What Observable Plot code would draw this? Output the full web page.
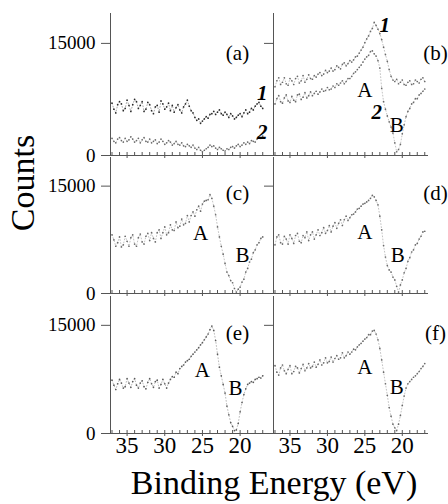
<!DOCTYPE html>
<html>
<head>
<meta charset="utf-8">
<script src="https://cdn.jsdelivr.net/npm/d3@7"></script>
<script src="https://cdn.jsdelivr.net/npm/@observablehq/plot@0.6"></script>
<style>
  html, body { margin: 0; padding: 0; background: #fff; }
  #fig { position: relative; width: 448px; height: 504px; overflow: hidden; color: #000; }
  #fig svg { position: absolute; }
  .ylab { position: absolute; left: 23px; top: 183px; font-size: 34px; line-height: 34px;
          white-space: nowrap; transform: translate(-50%, -50%) rotate(-90deg); }
  .xlab { position: absolute; left: 274px; top: 466px; font-size: 34px; line-height: 34px;
          white-space: nowrap; transform: translateX(-50%); }
</style>
</head>
<body>
<div id="fig">
  <div class="ylab">Counts</div>
  <div class="xlab">Binding Energy (eV)</div>
</div>
<script>
// Binding energy grid shared by every spectrum (eV)
const energy = [37, 36.75, 36.5, 36.25, 36, 35.75, 35.5, 35.25, 35, 34.75,
  34.5, 34.25, 34, 33.75, 33.5, 33.25, 33, 32.75, 32.5, 32.25,
  32, 31.75, 31.5, 31.25, 31, 30.75, 30.5, 30.25, 30, 29.75,
  29.5, 29.25, 29, 28.75, 28.5, 28.25, 28, 27.75, 27.5, 27.25,
  27, 26.75, 26.5, 26.25, 26, 25.75, 25.5, 25.25, 25, 24.75,
  24.5, 24.25, 24, 23.75, 23.5, 23.25, 23, 22.75, 22.5, 22.25,
  22, 21.75, 21.5, 21.25, 21, 20.75, 20.5, 20.25, 20, 19.75,
  19.5, 19.25, 19, 18.75, 18.5, 18.25, 18, 17.75, 17.5, 17.25, 17];

// Counts for each spectrum, one value per grid energy
const countsA1 = [7000, 6200, 5700, 6800, 7200, 6900, 6000, 6300, 7400, 6700,
  5900, 6800, 7500, 7200, 6300, 6700, 7200, 5900, 6200, 7100,
  6800, 6000, 5600, 6500, 6700, 5800, 7300, 6900, 6200, 6500,
  7000, 6000, 6700, 5800, 6400, 6800, 6100, 5700, 6500, 6900,
  7400, 6600, 6000, 5700, 5100, 4700, 4900, 4300, 4600, 4900,
  5200, 5000, 5500, 5600, 5900, 5500, 5800, 6100, 5600, 5400,
  5800, 5500, 5100, 5600, 5300, 4900, 5100, 5400, 5600, 5200,
  5700, 6100, 5600, 5800, 6300, 6100, 6600, 6900, 7100, 6600, 6300];
const countsA2 = [2300, 1900, 1700, 2200, 2400, 2000, 1800, 2300, 1900, 2100,
  2500, 2200, 1800, 2000, 2300, 1700, 2100, 2400, 1900, 1800,
  2200, 1700, 1900, 2100, 1600, 1800, 2200, 1900, 1500, 1700,
  2000, 1800, 1400, 1600, 1900, 1500, 1400, 1700, 1300, 1200,
  1500, 1300, 1100, 1400, 1000, 800, 1100, 700, 500, 700,
  900, 1100, 1400, 1200, 1300, 1000, 800, 1100, 900, 700,
  600, 900, 800, 1100, 1200, 1000, 1300, 1500, 1200, 1400,
  1700, 1500, 1800, 1600, 2000, 1900, 1800, 2200, 2400, 2300, 2600];
const countsB1 = [9200, 10000, 10400, 9500, 9800, 10400, 9600, 9400, 10300, 10000,
  9500, 10300, 10600, 9700, 10000, 10700, 9800, 10200, 10800, 10300,
  10200, 10700, 10500, 10900, 11100, 10700, 10900, 11400, 11100, 11300,
  11700, 11300, 11500, 12000, 11800, 11600, 12200, 12400, 12000, 12300,
  12700, 12500, 12800, 13200, 13300, 13700, 14100, 14500, 15100, 15600,
  16000, 16600, 17000, 17800, 17400, 16900, 16300, 15500, 14500, 13500,
  12600, 11500, 10600, 10100, 9900, 10200, 9600, 9800, 10100, 9500,
  9400, 9800, 10000, 9500, 9600, 10100, 9900, 9700, 10200, 10400, 9900];
const countsB2 = [6900, 7600, 8000, 7200, 7000, 7700, 8100, 7300, 7100, 7900,
  7400, 7200, 8100, 8200, 7500, 7800, 8400, 7700, 8000, 8500,
  8000, 8300, 8600, 8200, 8500, 8900, 8600, 8700, 9100, 8800,
  8900, 9300, 9100, 9600, 9400, 9700, 10000, 9600, 9900, 10300,
  10300, 10600, 11000, 11200, 11500, 11800, 12100, 12500, 12900, 13200,
  13400, 13900, 14000, 13600, 13300, 12700, 11700, 9000, 7200, 6200,
  5300, 4500, 3800, 3000, 1700, 500, 800, 1500, 2900, 4100,
  5200, 5900, 6300, 6900, 7100, 7600, 7600, 8100, 8300, 8600, 8900];
const countsC = [8200, 7500, 6600, 7100, 7900, 6500, 6800, 8000, 7300, 6600,
  7800, 8200, 6900, 6600, 7800, 8300, 7200, 6900, 8000, 8400,
  7400, 8500, 7700, 7200, 8500, 8900, 7700, 8500, 9300, 8200,
  8500, 9600, 8900, 8800, 10000, 9200, 9400, 10400, 9600, 9800,
  10900, 10000, 10900, 11400, 10800, 11700, 12200, 11500, 12500, 12900,
  13000, 13100, 13800, 13300, 12200, 11000, 9300, 7900, 6600, 5500,
  4200, 3000, 2500, 1800, 1500, 700, 200, 600, 900, 1600,
  2000, 3000, 3500, 4400, 4800, 5700, 6100, 6800, 7100, 7700, 7900];
const countsD = [6800, 7900, 8200, 7100, 6900, 8000, 7600, 6900, 8200, 7700,
  7000, 8100, 8400, 7300, 7100, 8100, 7800, 8600, 7400, 8200,
  8600, 7600, 8200, 8900, 8100, 8500, 9200, 8400, 8800, 9500,
  8600, 9400, 9900, 9100, 9800, 10300, 9500, 10300, 10800, 10200,
  10600, 11000, 11100, 11400, 11800, 11900, 12200, 12500, 12600, 12800,
  13000, 13300, 13700, 13500, 13000, 12400, 10800, 8900, 6700, 5100,
  3900, 3300, 3000, 2300, 1900, 1000, 200, 1200, 1900, 2900,
  3500, 4500, 5000, 5800, 6100, 6800, 7000, 7600, 8000, 8600, 8700];
const countsE = [7400, 6700, 6100, 6900, 7500, 7000, 6300, 6500, 7600, 7000,
  6400, 7200, 7600, 6700, 6300, 7000, 7300, 6500, 6200, 7100,
  7600, 6900, 6400, 7200, 7400, 6300, 6800, 7500, 6900, 6300,
  7000, 7500, 7900, 7800, 8500, 8300, 9000, 9300, 9500, 9900,
  10100, 10300, 10700, 11000, 11300, 11600, 11900, 12300, 12600, 13000,
  13400, 13800, 14400, 14900, 14300, 12900, 11000, 9200, 8000, 6800,
  5600, 3800, 2600, 1500, 1000, 400, 500, 1400, 3000, 4300,
  5400, 6200, 6800, 7000, 7200, 7100, 7500, 7600, 7800, 7700, 8000];
const countsF = [9400, 8500, 8100, 9100, 9500, 8700, 8300, 8900, 9400, 8300,
  8600, 9300, 9100, 8400, 9000, 9600, 8700, 9100, 9700, 9100,
  9300, 9900, 9200, 9600, 10200, 9500, 9800, 10500, 9800, 10000,
  10600, 9900, 10400, 10800, 10300, 10500, 11200, 10500, 10800, 11300,
  11000, 11300, 11700, 11600, 12000, 12300, 12500, 12800, 13100, 13300,
  13700, 13700, 14200, 14300, 13800, 13000, 11800, 10200, 8500, 6900,
  5300, 3600, 2400, 1300, 800, 400, 1300, 2500, 3900, 5200,
  6300, 6900, 7200, 7500, 7800, 8000, 8300, 8600, 9000, 9300, 9700];

// Panel tags and axis tick values
const panelTags = ["(a)", "(b)", "(c)", "(d)", "(e)", "(f)"];
const energyTicks = [35, 30, 25, 20];
const energyMinorTicks = [37, 36, 34, 33, 32, 31, 29, 28, 27, 26, 24, 23, 22, 21, 19, 18, 17];
const countTicks = [0, 15000];

const xDomain = [37.2, 16.5];
const yDomain = [0, 19000];
const axisColor = "#555";

// Pick the first Times-like face that the system actually provides
function pickSerif() {
  const names = ["Liberation Serif", "Tinos", "Times New Roman", "Times", "Nimbus Roman",
    "Nimbus Roman No9 L", "TeX Gyre Termes", "FreeSerif", "DejaVu Serif", "Noto Serif",
    "Bitstream Vera Serif", "Noto Serif CJK SC", "Source Han Serif SC", "Georgia"];
  const ctx = document.createElement("canvas").getContext("2d");
  const probe = "BindingEnergy(eV)Counts0123456789mwil";
  const width = f => { ctx.font = "40px " + f; return ctx.measureText(probe).width; };
  const w1 = width("monospace"), w2 = width("sans-serif");
  for (const n of names) {
    if (width(`'${n}', monospace`) !== w1 && width(`'${n}', sans-serif`) !== w2) return `'${n}', serif`;
  }
  return "serif";
}
const serif = pickSerif();
document.getElementById("fig").style.fontFamily = serif;

// Column and row geometry of the 3 x 2 grid of panels
const cols = [
  {left: 0, width: 272, ml: 110, mr: 6},
  {left: 263, width: 185, ml: 10, mr: 20}
];
const rows = [
  {top: 5, mt: 8, ph: 142, mb: 8},
  {top: 149, mt: 8, ph: 136, mb: 8},
  {top: 288, mt: 8, ph: 137, mb: 45}
];

// Spectra and feature labels for each panel
const panels = [
  {col: 0, row: 0, tagDy: 40,
   spectra: [{values: countsA1, color: "#2a2a2a"}, {values: countsA2, color: "#6a6a6a"}],
   notes: [{t: "1", e: 17.05, c: 8300, em: true}, {t: "2", e: 17.05, c: 3080, em: true}]},
  {col: 1, row: 0, tagDy: 40,
   spectra: [{values: countsB1, color: "#6a6a6a"}, {values: countsB2, color: "#6a6a6a"}],
   notes: [{t: "1", e: 22.35, c: 17400, em: true}, {t: "A", e: 25.0, c: 8700},
           {t: "2", e: 23.4, c: 5750, em: true}, {t: "B", e: 20.75, c: 4000}]},
  {col: 0, row: 1, tagDy: 36,
   spectra: [{values: countsC, color: "#6a6a6a"}],
   notes: [{t: "A", e: 25.26, c: 8380}, {t: "B", e: 19.7, c: 5300}]},
  {col: 1, row: 1, tagDy: 36,
   spectra: [{values: countsD, color: "#6a6a6a"}],
   notes: [{t: "A", e: 25.0, c: 8520}, {t: "B", e: 20.6, c: 5300}]},
  {col: 0, row: 2, tagDy: 37,
   spectra: [{values: countsE, color: "#5a5a5a"}],
   notes: [{t: "A", e: 25.0, c: 8740}, {t: "B", e: 20.6, c: 6240}]},
  {col: 1, row: 2, tagDy: 37,
   spectra: [{values: countsF, color: "#6a6a6a"}],
   notes: [{t: "A", e: 25.0, c: 9150}, {t: "B", e: 20.75, c: 6380}]}
];

const fig = document.getElementById("fig");

panels.forEach((p, k) => {
  const col = cols[p.col];
  const row = rows[p.row];
  const isLeft = p.col === 0;
  const isBottom = p.row === 2;

  const marks = [];

  // Frame: energy axis line and counts axis line
  marks.push(Plot.ruleY([0], {stroke: axisColor, strokeWidth: 1}));
  marks.push(Plot.ruleX([xDomain[0]], {stroke: axisColor, strokeWidth: 1}));

  // Energy ticks: minor ticks point inward, major ticks cross the axis
  marks.push(Plot.ruleX(energyMinorTicks, {x: d => d, y1: 0, y2: 0, insetBottom: 3, stroke: axisColor}));
  marks.push(Plot.ruleX(energyTicks, {x: d => d, y1: 0, y2: 0, insetBottom: 3, insetTop: 3, stroke: axisColor}));
  // Counts ticks point outward
  marks.push(Plot.ruleY(countTicks, {y: d => d, x1: xDomain[0], x2: xDomain[0], insetRight: 9, stroke: axisColor}));

  // Tick labels
  marks.push(Plot.axisX({
    ticks: energyTicks, tickSize: 0, tickPadding: 3, label: null,
    tickFormat: isBottom ? d => String(d) : () => "",
    fontSize: 23, fontFamily: serif, fill: "#000"
  }));
  marks.push(Plot.axisY({
    ticks: countTicks, tickSize: 0, tickPadding: 15, label: null,
    tickFormat: isLeft ? d => String(d) : () => "",
    fontSize: 19, fontFamily: serif, fill: "#000"
  }));

  // Spectra: faint dotted traces through the measured points, with the points on top
  p.spectra.forEach(s => {
    const pts = energy.map((e, i) => ({e, c: s.values[i]}));
    marks.push(Plot.line(pts, {
      x: "e", y: "c", stroke: s.color, strokeWidth: 0.9,
      strokeDasharray: "0.9,2.2", strokeOpacity: 0.45
    }));
    marks.push(Plot.dot(pts, {x: "e", y: "c", r: 0.85, fill: s.color, stroke: "none"}));
  });

  // Feature labels A / B and curve numbers
  marks.push(Plot.text(p.notes.filter(n => !n.em), {
    x: "e", y: "c", text: "t", fontSize: 21, fontFamily: serif, fill: "#000"
  }));
  marks.push(Plot.text(p.notes.filter(n => n.em), {
    x: "e", y: "c", text: "t", fontSize: 21, fontFamily: serif, fill: "#000",
    fontWeight: "bold", fontStyle: "italic"
  }));

  // Panel tag
  marks.push(Plot.text([panelTags[k]], {
    frameAnchor: "top-right", text: d => d, textAnchor: "middle", lineAnchor: "middle",
    dx: isLeft ? -29 : 7, dy: p.tagDy, fontSize: 21, fontFamily: serif, fill: "#000"
  }));

  const svg = Plot.plot({
    width: col.width,
    height: row.mt + row.ph + row.mb,
    marginLeft: col.ml,
    marginRight: col.mr,
    marginTop: row.mt,
    marginBottom: row.mb,
    x: {domain: xDomain, label: null},
    y: {domain: yDomain, label: null},
    style: {background: "none", overflow: "visible", fontFamily: serif, color: "#000"},
    marks
  });
  svg.style.left = col.left + "px";
  svg.style.top = row.top + "px";
  fig.appendChild(svg);
});
</script>
</body>
</html>
